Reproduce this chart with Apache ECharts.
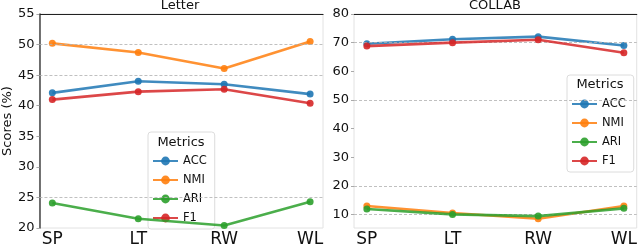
<!DOCTYPE html>
<html><head><meta charset="utf-8">
<script src="https://cdn.jsdelivr.net/npm/echarts@6/dist/echarts.min.js"></script>
<style>html,body{margin:0;padding:0;background:#fff}#c{width:640px;height:248px}</style>
</head><body><div id="c"></div>
<script>
const categories = ['SP', 'LT', 'RW', 'WL'];
const metricNames = ['ACC', 'NMI', 'ARI', 'F1'];
const letterACC = [42.1, 44.0, 43.5, 41.9];
const letterNMI = [50.2, 48.7, 46.1, 50.5];
const letterARI = [24.1, 21.5, 20.4, 24.3];
const letterF1 = [41.0, 42.3, 42.7, 40.4];
const collabACC = [69.6, 71.2, 72.1, 69.0];
const collabNMI = [13.0, 10.6, 8.6, 13.0];
const collabARI = [12.0, 10.1, 9.5, 12.2];
const collabF1 = [68.8, 70.0, 71.0, 66.5];
const letterTicks = [20, 25, 30, 35, 40, 45, 50, 55];
const collabTicks = [10, 20, 30, 40, 50, 60, 70, 80];
const letterGridLines = [25, 45, 50];
const collabGridLines = [10, 20, 50, 70];
const panelTitles = ['Letter', 'COLLAB'];
const legendTitle = 'Metrics';
const yName = 'Scores (%)';

const colors = ['#1f77b4', '#ff7f0e', '#2ca02c', '#d62728'];
const FONT = 'DejaVu Sans';
const xIdx = categories.map((c, i) => i);

function xAxisPair(gi) {
  return [{
    type: 'value', gridIndex: gi, min: -0.15, max: 3.15, position: 'bottom',
    axisLine: {show: false, onZero: false}, axisTick: {show: false}, splitLine: {show: false},
    axisLabel: {customValues: xIdx, formatter: v => categories[Math.round(v)] || '',
      fontSize: 17, color: '#111', fontFamily: FONT, margin: 3}
  }, {
    type: 'value', gridIndex: gi, min: -0.15, max: 3.15, position: 'top',
    axisLine: {show: true, onZero: false, lineStyle: {color: '#222', width: 1.2}},
    axisTick: {show: false}, axisLabel: {show: false}, splitLine: {show: false}
  }];
}

function mkSeries(gi, arrs, grid) {
  return arrs.map((arr, k) => {
    const s = {
      name: metricNames[k], type: 'line', xAxisIndex: gi * 2, yAxisIndex: gi,
      data: arr.map((v, i) => [xIdx[i], v]),
      symbol: 'circle', symbolSize: 7, showSymbol: true,
      lineStyle: {width: 2.6, color: colors[k], opacity: 0.85},
      itemStyle: {color: colors[k], opacity: 0.9},
      z: 3 + k, emphasis: {disabled: true}
    };
    if (k === 0) {
      s.markLine = {
        silent: true, symbol: 'none', label: {show: false}, animation: false,
        lineStyle: {type: [3, 2], color: '#b0b0b0', width: 0.8},
        data: grid.map(v => ({yAxis: v}))
      };
    }
    return s;
  });
}

function legendFor(left, top) {
  return {
    orient: 'vertical', left: left, top: top, data: metricNames,
    itemWidth: 25, itemHeight: 11, itemGap: 7,
    padding: [23, 8, 5, 4],
    backgroundColor: 'rgba(255,255,255,0.8)', borderColor: '#dcdcdc', borderWidth: 1, borderRadius: 3,
    textStyle: {fontSize: 11.5, color: '#111', fontFamily: FONT},
    selectedMode: false
  };
}

const chart = echarts.init(document.getElementById('c'), null, {renderer: 'canvas'});
chart.setOption({
  animation: false,
  color: colors,
  grid: [
    {left: 38, top: 14, width: 285, height: 215, show: true, borderColor: '#e2e2e2', borderWidth: 1},
    {left: 354, top: 14, width: 283, height: 215, show: true, borderColor: '#e2e2e2', borderWidth: 1}
  ],
  xAxis: [...xAxisPair(0), ...xAxisPair(1)],
  yAxis: [{
    type: 'value', gridIndex: 0, min: 20, max: 55, interval: 5,
    name: yName, nameLocation: 'middle', nameGap: 24,
    nameTextStyle: {fontSize: 13, color: '#111', fontFamily: FONT},
    axisLine: {show: true, onZero: false, lineStyle: {color: '#444', width: 1.5}},
    axisTick: {show: true, length: 3, lineStyle: {color: '#aaa'}},
    splitLine: {show: false},
    axisLabel: {customValues: letterTicks, fontSize: 13, color: '#111', fontFamily: FONT, margin: 5}
  }, {
    type: 'value', gridIndex: 1, min: 5.35, max: 80,
    axisLine: {show: false, onZero: false},
    axisTick: {show: true, customValues: collabTicks, length: 3, lineStyle: {color: '#aaa'}},
    splitLine: {show: false},
    axisLabel: {customValues: collabTicks, fontSize: 13, color: '#111', fontFamily: FONT, margin: 5}
  }],
  legend: [legendFor(148, 132), legendFor(567, 75)],
  graphic: [
    {type: 'text', x: 180, y: -1, style: {text: panelTitles[0], fontSize: 13, fill: '#111', fontFamily: FONT, align: 'center', verticalAlign: 'top'}},
    {type: 'text', x: 495, y: -1, style: {text: panelTitles[1], fontSize: 13, fill: '#111', fontFamily: FONT, align: 'center', verticalAlign: 'top'}},
    {type: 'text', x: 181, y: 143, z: 100, style: {text: legendTitle, fontSize: 13, fill: '#111', fontFamily: FONT, align: 'center', verticalAlign: 'middle'}},
    {type: 'text', x: 600, y: 85, z: 100, style: {text: legendTitle, fontSize: 13, fill: '#111', fontFamily: FONT, align: 'center', verticalAlign: 'middle'}}
  ],
  series: [
    ...mkSeries(0, [letterACC, letterNMI, letterARI, letterF1], letterGridLines),
    ...mkSeries(1, [collabACC, collabNMI, collabARI, collabF1], collabGridLines)
  ]
});
</script></body></html>
